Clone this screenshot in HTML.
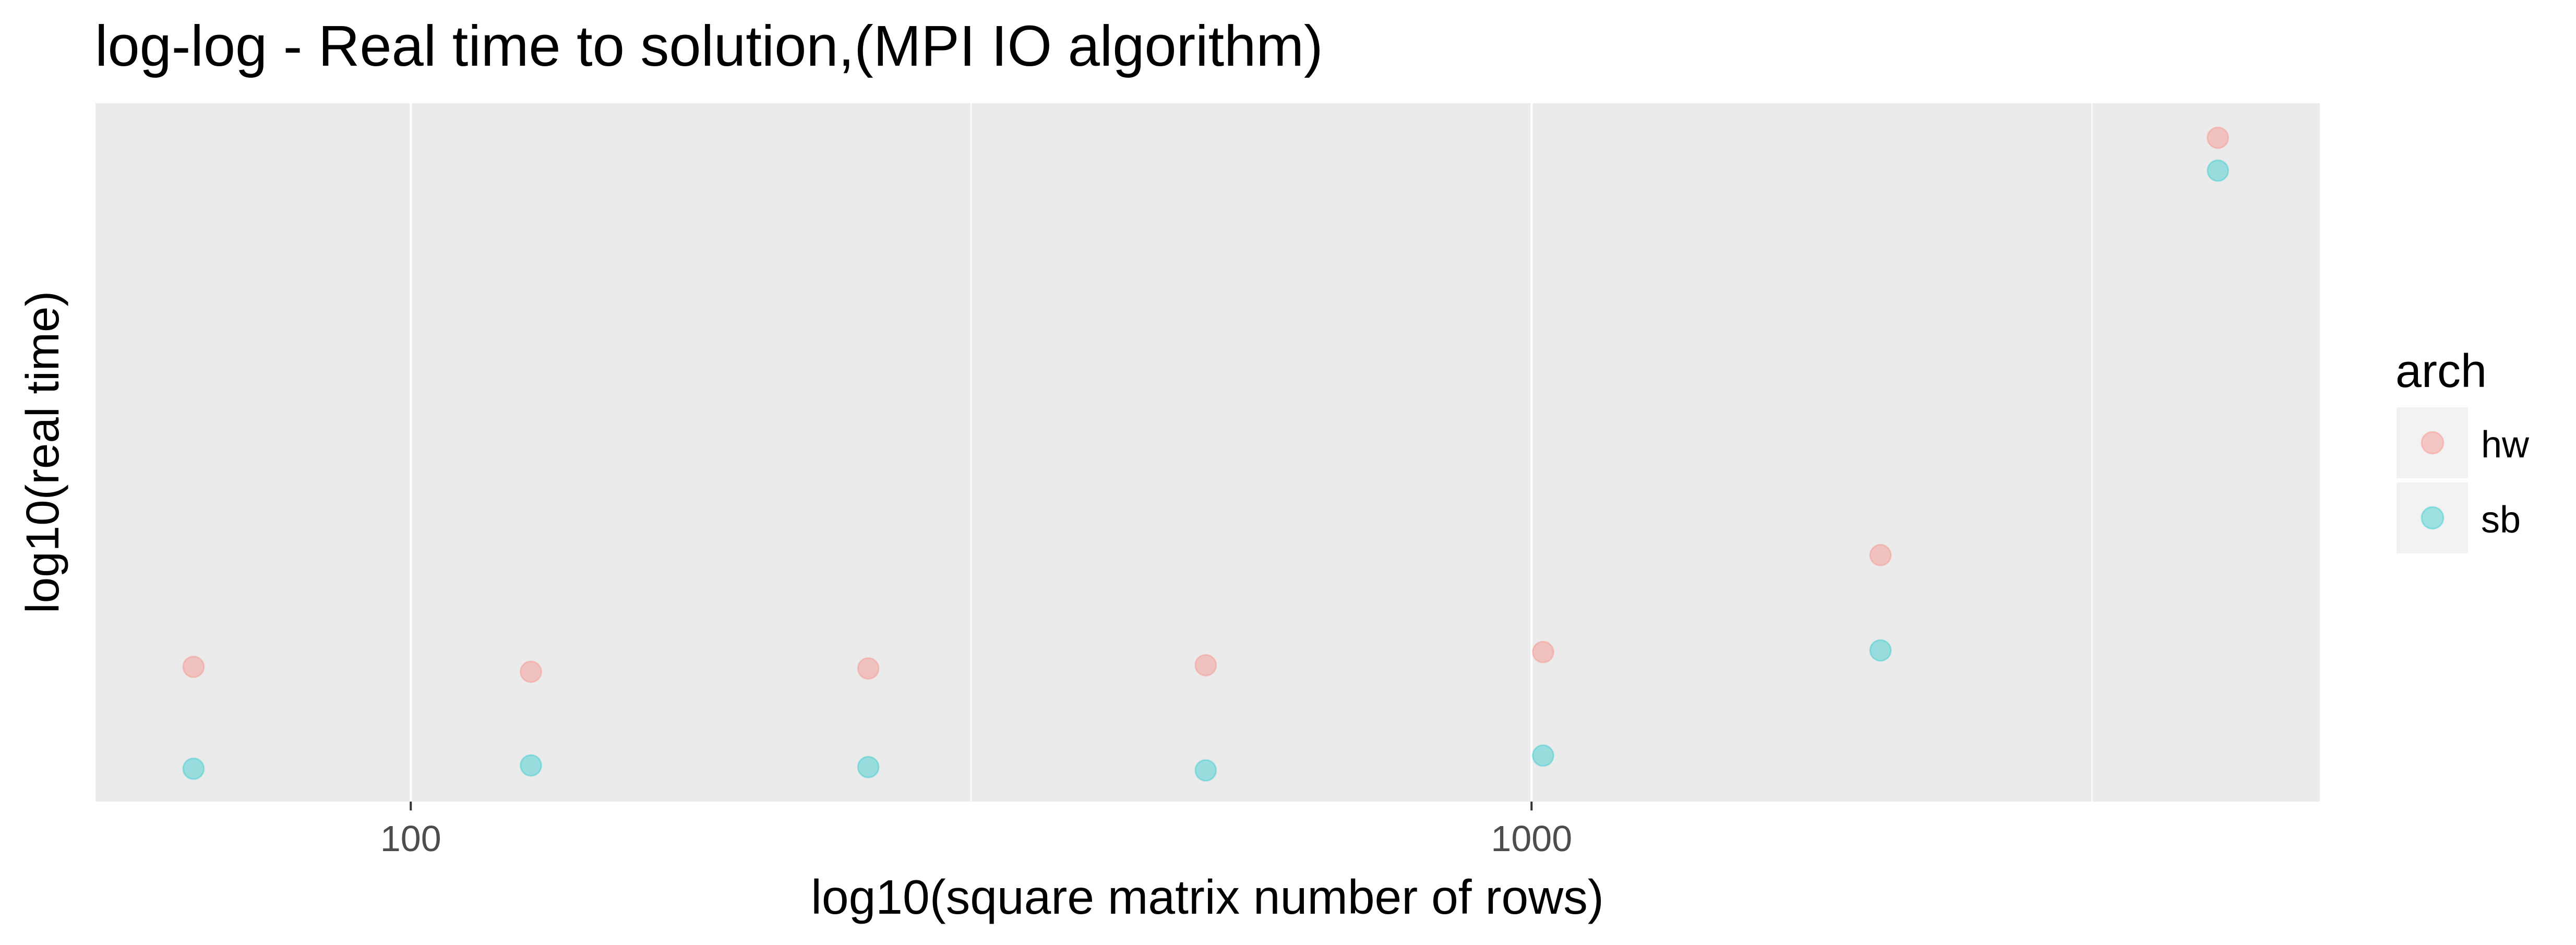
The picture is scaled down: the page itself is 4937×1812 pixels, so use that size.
<!DOCTYPE html>
<html><head><meta charset="utf-8"><style>
html,body{margin:0;padding:0;background:#fff;width:4937px;height:1812px;overflow:hidden}
svg{display:block;font-family:"Liberation Sans",Arial,sans-serif}
</style></head><body>
<svg id="chart" width="4937" height="1812" viewBox="0 0 4937 1812">
<text x="182" y="126" font-size="110" fill="#000">log-log - Real time to solution,(MPI IO algorithm)</text>
<rect x="183" y="198" width="4263" height="1339" fill="#EBEBEB"/>
<g id="grid"></g>
<g id="points"></g>
<g id="xaxis"></g>
<text x="2314" y="1752" font-size="93" text-anchor="middle" fill="#000">log10(square matrix number of rows)</text>
<text transform="translate(112,867) rotate(-90)" font-size="89" text-anchor="middle" fill="#000">log10(real time)</text>
<g>
<text x="4591" y="742" font-size="90" fill="#000">arch</text>
<g>
<rect x="4593" y="781" width="137" height="136" fill="#F2F2F2"/>
<circle cx="4662" cy="849" r="21" fill="#F8766D" fill-opacity="0.35" stroke="#F8766D" stroke-opacity="0.3" stroke-width="3"/>
<text x="4755" y="877" font-size="72" fill="#000">hw</text></g>
<g>
<rect x="4593" y="925" width="137" height="136" fill="#F2F2F2"/>
<circle cx="4662" cy="993" r="21" fill="#00BFC4" fill-opacity="0.35" stroke="#00BFC4" stroke-opacity="0.3" stroke-width="3"/>
<text x="4755" y="1021" font-size="72" fill="#000">sb</text></g>
</g>
</svg>
<script>
const rows = [64,128,256,512,1024,2048,4096];
const hwLogTime = [0.83,0.80,0.82,0.84,0.92,1.51,4.05];
const sbLogTime = [0.21,0.23,0.22,0.20,0.29,0.93,3.85];
const xMajorTicks = [100,1000];
const xMinorTicks = [316.23,3162.3];
const xTickLabels = ["100","1000"];

const NS="http://www.w3.org/2000/svg";
const pL=183,pR=4446,pT=198,pB=1537;
const xLogMin=1.7187, xLogMax=3.7033;
const yMin=0.01, yMax=4.26;
function xs(v){return pL+(Math.log10(v)-xLogMin)/(xLogMax-xLogMin)*(pR-pL);}
function ys(v){return pB-(v-yMin)/(yMax-yMin)*(pB-pT);}
function mk(tag,attrs,parent){const e=document.createElementNS(NS,tag);for(const k in attrs)e.setAttribute(k,attrs[k]);parent.appendChild(e);return e;}
const grid=document.getElementById('grid'),pts=document.getElementById('points'),xa=document.getElementById('xaxis');
xMinorTicks.forEach(v=>{const l=mk('line',{x1:xs(v),x2:xs(v),y1:pT,y2:pB,stroke:'#fff','stroke-width':2},grid);

});
xMajorTicks.forEach((v,i)=>{const l=mk('line',{x1:xs(v),x2:xs(v),y1:pT,y2:pB,stroke:'#fff','stroke-width':4},grid);


const t=mk('line',{x1:xs(v),x2:xs(v),y1:pB,y2:pB+17,stroke:'#333','stroke-width':4},xa);


const tx=mk('text',{x:xs(v),y:1632,'font-size':70,'text-anchor':'middle',fill:'#4D4D4D'},xa);
tx.textContent=xTickLabels[i];

});
function series(vals,color,name){vals.forEach((v,i)=>{const c=mk('circle',{cx:xs(rows[i]),cy:ys(v),r:20,fill:color,'fill-opacity':0.35,stroke:color,'stroke-opacity':0.3,'stroke-width':3},pts);

});}
series(hwLogTime,'#F8766D','hw');
series(sbLogTime,'#00BFC4','sb');
</script>
</body></html>
